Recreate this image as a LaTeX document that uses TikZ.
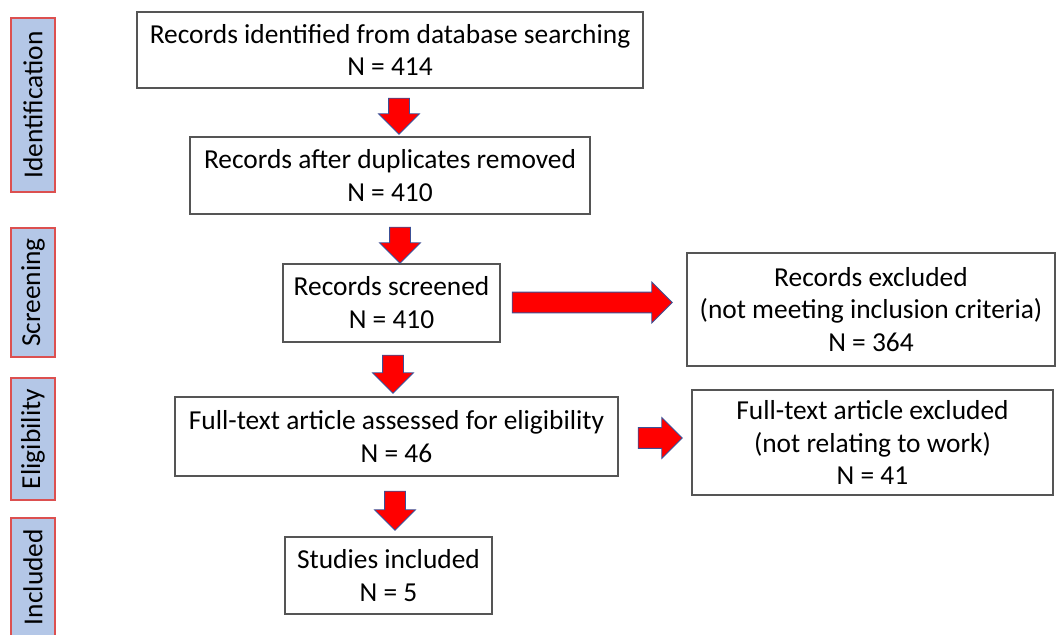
\documentclass[tikz,border=0pt]{standalone}
\usepackage{fontspec}
\setmainfont{Carlito}
\usetikzlibrary{shapes.arrows}
\definecolor{boxline}{RGB}{85,85,85}
\definecolor{stagefill}{RGB}{180,199,231}
\definecolor{stageline}{RGB}{220,80,80}
\definecolor{arrowline}{RGB}{60,80,150}
\begin{document}
\begin{tikzpicture}[x=0.02cm,y=-0.02cm,font=\fontsize{15.6}{18.7}\selectfont,
box/.style={draw=boxline,line width=.8pt,align=center,inner sep=0pt},
stage/.style={draw=stageline,fill=stagefill,line width=.8pt,rotate=90,minimum height=.88cm,inner sep=0pt},
blockarrow/.style={single arrow,draw=arrowline,fill=red,line width=.5pt,inner xsep=0pt,inner ysep=.2cm,single arrow head extend=.2cm,single arrow tip angle=90,minimum width=0pt}]
\useasboundingbox (0,0) rectangle (1056,635);

% stages on the left
\node[stage,minimum width=3.48cm] (sid) at (33,105) {Identification};
\node[stage,minimum width=2.58cm] (sscr) at (33,292.5) {Screening};
\node[stage,minimum width=2.44cm] (selig) at (33,439) {Eligibility};
\node[stage,minimum width=2.36cm] (sincl) at (33,577) {Included};

% flow boxes
\node[box,minimum width=10.12cm,minimum height=1.52cm] (b1) at (390,50) {Records identified from database searching\\N = 414};
\node[box,minimum width=8cm,minimum height=1.54cm] (b2) at (390,175.5) {Records after duplicates removed\\N = 410};
\node[box,minimum width=4.34cm,minimum height=1.56cm] (b3) at (391.5,303) {Records screened\\N = 410};
\node[box,minimum width=7.36cm,minimum height=2.26cm] (b4) at (871,309.5) {Records excluded\\(not meeting inclusion criteria)\\N = 364};
\node[box,minimum width=8.86cm,minimum height=1.58cm] (b5) at (396.5,436.5) {Full-text article assessed for eligibility\\N = 46};
\node[box,minimum width=7.22cm,minimum height=2.1cm] (b6) at (872.5,442.5) {Full-text article excluded\\(not relating to work)\\N = 41};
\node[box,minimum width=4.14cm,minimum height=1.54cm] (b7) at (388.5,575.5) {Studies included\\N = 5};

% block arrows
\node[blockarrow,rotate=-90,minimum height=.72cm] (a1) at (399,111) {};
\node[blockarrow,rotate=-90,minimum height=.72cm] (a2) at (400,240) {};
\node[blockarrow,rotate=-90,minimum height=.76cm] (a3) at (393,369) {};
\node[blockarrow,rotate=-90,minimum height=.78cm] (a4) at (395,505.5) {};
\node[blockarrow,minimum height=3.2cm] (a5) at (587,302.5) {};
\node[blockarrow,minimum height=.88cm] (a6) at (655,438) {};

\end{tikzpicture}
\end{document}
